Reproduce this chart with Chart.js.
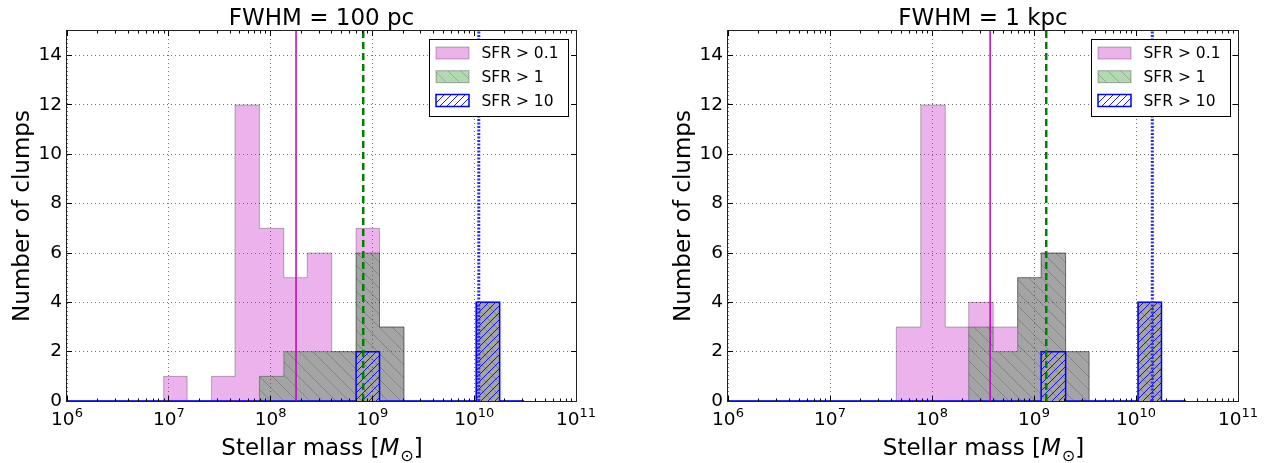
<!DOCTYPE html>
<html>
<head>
<meta charset="utf-8">
<script src="https://cdn.jsdelivr.net/npm/chart.js@4.4.1/dist/chart.umd.min.js"></script>
<style>
  html, body { margin: 0; padding: 0; background: #fff; }
  #wrap { position: relative; width: 1268px; height: 463px; }
  canvas { position: absolute; top: 0; }
</style>
</head>
<body>
<div id="wrap">
  <canvas id="panel100pc" width="634" height="463" style="left:0px"></canvas>
  <canvas id="panel1kpc" width="634" height="463" style="left:634px"></canvas>
</div>
<script>
// bin edges in log10(M / Msun)
const logMassEdges = [6.00, 6.24, 6.47, 6.71, 6.95, 7.18, 7.42, 7.65, 7.89, 8.13,
                      8.36, 8.60, 8.84, 9.07, 9.31, 9.54, 9.78, 10.02, 10.25, 10.49];

const seriesLabels = ['SFR > 0.1', 'SFR > 1', 'SFR > 10'];
const panelTitles = ['FWHM = 100 pc', 'FWHM = 1 kpc'];
const xTickExponents = [6, 7, 8, 9, 10, 11];
const minorMultipliers = [2, 3, 4, 5, 6, 7, 8, 9];
const yTicks = [0, 2, 4, 6, 8, 10, 12, 14];

// counts per bin, FWHM = 100 pc
const sfr01_100pc = [0, 0, 0, 0, 1, 0, 1, 12, 7, 5, 6, 2, 7, 3, 0, 0, 0, 4, 0];
const sfr1_100pc  = [0, 0, 0, 0, 0, 0, 0, 0, 1, 2, 2, 2, 6, 3, 0, 0, 0, 4, 0];
const sfr10_100pc = [0, 0, 0, 0, 0, 0, 0, 0, 0, 0, 0, 0, 2, 0, 0, 0, 0, 4, 0];
// counts per bin, FWHM = 1 kpc
const sfr01_1kpc  = [0, 0, 0, 0, 0, 0, 0, 3, 12, 3, 4, 3, 5, 6, 2, 0, 0, 4, 0];
const sfr1_1kpc   = [0, 0, 0, 0, 0, 0, 0, 0, 0, 0, 3, 2, 5, 6, 2, 0, 0, 4, 0];
const sfr10_1kpc  = [0, 0, 0, 0, 0, 0, 0, 0, 0, 0, 0, 0, 0, 2, 0, 0, 0, 4, 0];

// vertical lines (log10 mass) for each SFR cut
const medians_100pc = [8.25, 8.91, 10.045];
const medians_1kpc  = [8.57, 9.12, 10.16];

const FONT = '"DejaVu Sans"';
Chart.defaults.font.family = FONT;
Chart.defaults.color = '#000';

const pinkFill = 'rgba(191, 0, 191, 0.3)';
const edgeGray = 'rgba(0, 0, 0, 0.28)';
const blue = '#0000ff';

function hatch(size, dir, lineColor, bg, lw) {
    const c = document.createElement('canvas');
    c.width = size;
    c.height = size;
    const g = c.getContext('2d');
    if (bg) {
        g.fillStyle = bg;
        g.fillRect(0, 0, size, size);
    }
    g.strokeStyle = lineColor;
    g.lineWidth = lw;
    g.beginPath();
    if (dir == '/') {
        g.moveTo(0, size); g.lineTo(size, 0);
        g.moveTo(-1, 1); g.lineTo(1, -1);
        g.moveTo(size - 1, size + 1); g.lineTo(size + 1, size - 1);
    } else {
        g.moveTo(0, 0); g.lineTo(size, size);
        g.moveTo(-1, size - 1); g.lineTo(1, size + 1);
        g.moveTo(size - 1, -1); g.lineTo(size + 1, 1);
    }
    g.stroke();
    return g.createPattern(c, 'repeat');
}

const greenHatch = hatch(13, '\\', 'rgba(0,0,0,0.22)', 'rgba(0, 128, 0, 0.3)', 0.9);
const blueHatch = hatch(7, '/', blue, null, 0.9);

const styles = [
    { fill: pinkFill, edge: edgeGray, width: 1, order: 3 },
    { fill: greenHatch, edge: 'rgba(0,0,0,0.3)', width: 1, order: 2 },
    { fill: blueHatch, edge: blue, width: 1.5, order: 1 },
];
const lineStyles = [
    { color: '#bf00bf', width: 1.5, dash: [] },
    { color: '#008000', width: 2.5, dash: [7, 4] },
    { color: '#2a2aff', width: 3, dash: [2, 1.5] },
];

function stepPoints(counts) {
    var pts = [];
    for (let i = 0; i < counts.length; i++) {
        pts.push({ x: Math.pow(10, logMassEdges[i]), y: counts[i] });
    }
    pts.push({ x: Math.pow(10, logMassEdges[counts.length]), y: 0 });
    return pts;
}

const decorPlugin = {
    id: 'decor',
    afterDraw(chart, args, o) {
        const ctx = chart.ctx;
        const a = chart.chartArea;
        const xs = chart.scales.x;
        const ys = chart.scales.y;
        ctx.save();

        // inward ticks on all four sides
        ctx.strokeStyle = '#000';
        ctx.lineWidth = 1;
        ctx.beginPath();
        xTickExponents.forEach(e => {
            const px = Math.floor(xs.getPixelForValue(Math.pow(10, e))) + 0.5;
            ctx.moveTo(px, a.bottom); ctx.lineTo(px, a.bottom - 5);
            ctx.moveTo(px, a.top); ctx.lineTo(px, a.top + 5);
            if (e == 11) return;
            minorMultipliers.forEach(m => {
                const mx = Math.floor(xs.getPixelForValue(m * Math.pow(10, e))) + 0.5;
                ctx.moveTo(mx, a.bottom); ctx.lineTo(mx, a.bottom - 2.5);
                ctx.moveTo(mx, a.top); ctx.lineTo(mx, a.top + 2.5);
            });
        });
        yTicks.forEach(v => {
            const py = Math.floor(ys.getPixelForValue(v)) + 0.5;
            ctx.moveTo(a.left, py); ctx.lineTo(a.left + 5, py);
            ctx.moveTo(a.right, py); ctx.lineTo(a.right - 5, py);
        });
        ctx.stroke();

        // frame
        ctx.strokeStyle = '#222';
        ctx.strokeRect(Math.floor(a.left) - 0.5, Math.floor(a.top) - 0.5,
            Math.round(a.right - a.left) + 1, Math.round(a.bottom - a.top) + 1);

        // x tick labels 10^n
        ctx.fillStyle = '#000';
        ctx.textBaseline = 'alphabetic';
        ctx.textAlign = 'left';
        xTickExponents.forEach(e => {
            const px = xs.getPixelForValue(Math.pow(10, e));
            ctx.font = '18.5px ' + FONT;
            const w1 = ctx.measureText('10').width;
            ctx.font = '13px ' + FONT;
            const w2 = ctx.measureText(String(e)).width;
            const x0 = px - (w1 + w2) / 2;
            ctx.font = '18.5px ' + FONT;
            ctx.fillText('10', x0, 425);
            ctx.font = '13px ' + FONT;
            ctx.fillText(String(e), x0 + w1, 416.5);
        });

        // title
        const cx = (a.left + a.right) / 2;
        ctx.font = '23px ' + FONT;
        ctx.textAlign = 'center';
        ctx.fillText(o.title, cx, 25);

        // x label with M_sun
        const parts = [
            { t: 'Stellar mass [', f: '23px ' + FONT, dy: 0 },
            { t: 'M', f: 'italic 23px ' + FONT, dy: 0 },
            { t: '\u2299', f: '16px ' + FONT, dy: 6 },
            { t: ']', f: '23px ' + FONT, dy: 0 },
        ];
        var total = 0;
        parts.forEach(p => { ctx.font = p.f; p.w = ctx.measureText(p.t).width; total += p.w; });
        var px = cx - total / 2;
        ctx.textAlign = 'left';
        parts.forEach(p => {
            ctx.font = p.f;
            ctx.fillText(p.t, px, 455 + p.dy);
            px += p.w + (p.t == 'M' ? 1 : 0);
        });

        // y label
        ctx.save();
        ctx.translate(a.left - 38.5, (a.top + a.bottom) / 2);
        ctx.rotate(-Math.PI / 2);
        ctx.textAlign = 'center';
        ctx.font = '23px ' + FONT;
        ctx.fillText('Number of clumps', 0, 0);
        ctx.restore();

        // legend, upper right inside axes
        const bw = 139, bh = 77;
        const bx = Math.floor(a.right - 8 - bw) + 0.5;
        const by = Math.floor(a.top + 8) + 0.5;
        ctx.fillStyle = '#fff';
        ctx.fillRect(bx, by, bw, bh);
        ctx.strokeStyle = '#000';
        ctx.lineWidth = 1;
        ctx.strokeRect(bx, by, bw, bh);
        const rows = [13.5, 37.2, 61];
        ctx.font = '15.5px ' + FONT;
        ctx.textBaseline = 'middle';
        seriesLabels.forEach((lab, i) => {
            const s = styles[i];
            const ry = by + rows[i];
            const rx = bx + 6.5;
            ctx.fillStyle = s.fill;
            ctx.fillRect(rx, ry - 6, 33, 12);
            ctx.strokeStyle = s.edge;
            ctx.lineWidth = s.width;
            ctx.strokeRect(rx, ry - 6, 33, 12);
            ctx.fillStyle = '#000';
            ctx.fillText(lab, bx + 52, ry + 1);
        });
        ctx.restore();
    }
};

function makePanel(canvasId, area, title, counts, medians) {
    var datasets = [];
    counts.forEach((c, i) => {
        datasets.push({
            label: seriesLabels[i],
            data: stepPoints(c),
            stepped: true,
            fill: 'origin',
            backgroundColor: styles[i].fill,
            borderColor: styles[i].edge,
            borderWidth: styles[i].width,
            pointRadius: 0,
            order: styles[i].order,
        });
    });
    medians.forEach((m, i) => {
        datasets.push({
            label: 'median ' + seriesLabels[i],
            data: [{ x: Math.pow(10, m), y: 0 }, { x: Math.pow(10, m), y: 15 }],
            borderColor: lineStyles[i].color,
            borderWidth: lineStyles[i].width,
            borderDash: lineStyles[i].dash,
            fill: false,
            pointRadius: 0,
            order: 0,
            clip: 4,
        });
    });

    new Chart(document.getElementById(canvasId), {
        type: 'line',
        data: { datasets: datasets },
        options: {
            responsive: false,
            animation: false,
            events: [],
            layout: { padding: { left: 0, top: area.top, right: 634 - area.right, bottom: 0 } },
            plugins: {
                legend: { display: false },
                tooltip: { enabled: false },
                decor: { title: title },
            },
            scales: {
                x: {
                    type: 'logarithmic',
                    min: 1e6,
                    max: 1e11,
                    z: 1,
                    afterBuildTicks: s => { s.ticks = xTickExponents.map(e => ({ value: Math.pow(10, e) })); },
                    afterFit: s => { s.height = 463 - area.bottom; s.paddingLeft = 0; s.paddingRight = 0; },
                    ticks: { display: false },
                    grid: { color: 'rgba(0,0,0,0.55)', drawTicks: false, lineWidth: 1 },
                    border: { display: false, dash: [1, 3] },
                },
                y: {
                    type: 'linear',
                    min: 0,
                    max: 15,
                    z: 1,
                    afterBuildTicks: s => { s.ticks = yTicks.map(v => ({ value: v })); },
                    afterFit: s => { s.width = area.left; s.paddingTop = 0; s.paddingBottom = 0; },
                    ticks: { font: { size: 18.5 }, color: '#000', padding: 5 },
                    grid: { color: 'rgba(0,0,0,0.55)', drawTicks: false, lineWidth: 1 },
                    border: { display: false, dash: [1, 3] },
                },
            },
        },
        plugins: [decorPlugin],
    });
}

makePanel('panel100pc', { left: 67, top: 31, right: 576, bottom: 401 }, panelTitles[0],
    [sfr01_100pc, sfr1_100pc, sfr10_100pc], medians_100pc);
makePanel('panel1kpc', { left: 94, top: 31, right: 604, bottom: 401 }, panelTitles[1],
    [sfr01_1kpc, sfr1_1kpc, sfr10_1kpc], medians_1kpc);
</script>
</body>
</html>
